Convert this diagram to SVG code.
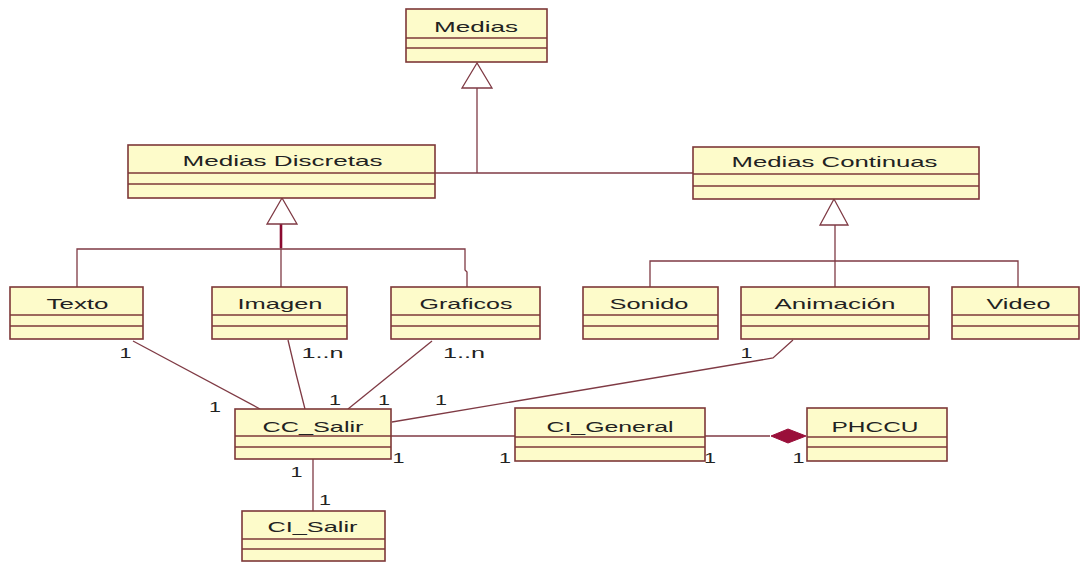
<svg xmlns="http://www.w3.org/2000/svg" width="1081" height="563" viewBox="0 0 1081 563">
  <style>
    .box { fill: #fdfbca; stroke: #7d3838; stroke-width: 1.6; }
    .sep { stroke: #7d3838; stroke-width: 1.3; }
    .name { font-family: "Liberation Sans", Arial, sans-serif; font-size: 15px; fill: #222; text-anchor: middle; }
    .mult { font-family: "Liberation Sans", Arial, sans-serif; font-size: 15px; fill: #222; text-anchor: middle; }
    .wire { fill: none; stroke: #7f3a44; stroke-width: 1.3; }
    .tri { fill: #ffffff; stroke: #7f3a44; stroke-width: 1.3; }
    .dia { fill: #9a0f3a; stroke: #9a0f3a; stroke-width: 1; }
  </style>
  <rect width="1081" height="563" fill="#ffffff"/>

  <!-- connectors -->
  <g id="connectors">
    <!-- Medias generalization -->
    <line class="wire" x1="435" y1="173" x2="693" y2="173"/>
    <line class="wire" x1="477" y1="173" x2="477" y2="88"/>
    <polygon class="tri" points="477,63 462,88 492,88"/>

    <!-- Medias Discretas generalization -->
    <polyline class="wire" points="77,287 77,249 465,249 465,270 467,272 467,287"/>
    <line class="wire" x1="281" y1="287" x2="281" y2="224"/>
    <line x1="281" y1="224" x2="281" y2="248" stroke="#8b0a30" stroke-width="2.6"/>
    <polygon class="tri" points="282,198 267,224 297,224"/>

    <!-- Medias Continuas generalization -->
    <polyline class="wire" points="650,287 650,261 1018,261 1018,287"/>
    <line class="wire" x1="835" y1="287" x2="835" y2="225"/>
    <polygon class="tri" points="834,199 820,225 848,225"/>

    <!-- associations to CC_Salir -->
    <line class="wire" x1="133" y1="341" x2="260" y2="409"/>
    <path class="wire" d="M288,340 Q296,375 305,409" stroke-width="2"/>
    <line class="wire" x1="432" y1="341" x2="348" y2="409"/>
    <polyline class="wire" points="793,340 773,358 392,422"/>
    <line class="wire" x1="391" y1="436" x2="515" y2="436"/>
    <line class="wire" x1="313" y1="459" x2="313" y2="511" stroke-width="1.8"/>

    <!-- composition CI_General / PHCCU -->
    <line class="wire" x1="705" y1="436" x2="770" y2="436"/>
    <polygon class="dia" points="771,436 788,429 806,436 788,443"/>
  </g>

  <!-- multiplicities -->
  <g id="multiplicities">
    <text class="mult" x="125.5" y="358" textLength="12" lengthAdjust="spacingAndGlyphs">1</text>
    <text class="mult" x="215" y="412" textLength="12" lengthAdjust="spacingAndGlyphs">1</text>
    <text class="mult" x="322.5" y="358" textLength="42" lengthAdjust="spacingAndGlyphs">1..n</text>
    <text class="mult" x="335" y="405" textLength="12" lengthAdjust="spacingAndGlyphs">1</text>
    <text class="mult" x="464" y="358" textLength="42" lengthAdjust="spacingAndGlyphs">1..n</text>
    <text class="mult" x="384" y="405" textLength="12" lengthAdjust="spacingAndGlyphs">1</text>
    <text class="mult" x="441" y="405" textLength="12" lengthAdjust="spacingAndGlyphs">1</text>
    <text class="mult" x="746.5" y="358" textLength="12" lengthAdjust="spacingAndGlyphs">1</text>
    <text class="mult" x="398.5" y="463" textLength="12" lengthAdjust="spacingAndGlyphs">1</text>
    <text class="mult" x="505" y="463" textLength="12" lengthAdjust="spacingAndGlyphs">1</text>
    <text class="mult" x="710" y="463" textLength="12" lengthAdjust="spacingAndGlyphs">1</text>
    <text class="mult" x="798.5" y="463" textLength="12" lengthAdjust="spacingAndGlyphs">1</text>
    <text class="mult" x="296.5" y="477" textLength="12" lengthAdjust="spacingAndGlyphs">1</text>
    <text class="mult" x="325" y="505" textLength="12" lengthAdjust="spacingAndGlyphs">1</text>
  </g>

  <!-- classes -->
  <g id="Medias">
    <rect class="box" x="406" y="9" width="141" height="53"/>
    <line class="sep" x1="406" y1="38" x2="547" y2="38"/>
    <line class="sep" x1="406" y1="48" x2="547" y2="48"/>
    <text class="name" x="476" y="32" textLength="84" lengthAdjust="spacingAndGlyphs">Medias</text>
  </g>
  <g id="MediasDiscretas">
    <rect class="box" x="128" y="145" width="307" height="53"/>
    <line class="sep" x1="128" y1="173" x2="435" y2="173"/>
    <line class="sep" x1="128" y1="184" x2="435" y2="184"/>
    <text class="name" x="282.5" y="166" textLength="200" lengthAdjust="spacingAndGlyphs">Medias Discretas</text>
  </g>
  <g id="MediasContinuas">
    <rect class="box" x="693" y="147" width="286" height="52"/>
    <line class="sep" x1="693" y1="174" x2="979" y2="174"/>
    <line class="sep" x1="693" y1="186" x2="979" y2="186"/>
    <text class="name" x="834.5" y="167" textLength="206" lengthAdjust="spacingAndGlyphs">Medias Continuas</text>
  </g>
  <g id="Texto">
    <rect class="box" x="10" y="287" width="133" height="52"/>
    <line class="sep" x1="10" y1="315" x2="143" y2="315"/>
    <line class="sep" x1="10" y1="326" x2="143" y2="326"/>
    <text class="name" x="77.5" y="309" textLength="62" lengthAdjust="spacingAndGlyphs">Texto</text>
  </g>
  <g id="Imagen">
    <rect class="box" x="212" y="287" width="135" height="52"/>
    <line class="sep" x1="212" y1="315" x2="347" y2="315"/>
    <line class="sep" x1="212" y1="326" x2="347" y2="326"/>
    <text class="name" x="280" y="309" textLength="85" lengthAdjust="spacingAndGlyphs">Imagen</text>
  </g>
  <g id="Graficos">
    <rect class="box" x="391" y="287" width="149" height="52"/>
    <line class="sep" x1="391" y1="315" x2="540" y2="315"/>
    <line class="sep" x1="391" y1="326" x2="540" y2="326"/>
    <text class="name" x="466" y="309" textLength="93" lengthAdjust="spacingAndGlyphs">Graficos</text>
  </g>
  <g id="Sonido">
    <rect class="box" x="583" y="287" width="135" height="52"/>
    <line class="sep" x1="583" y1="315" x2="718" y2="315"/>
    <line class="sep" x1="583" y1="326" x2="718" y2="326"/>
    <text class="name" x="649" y="309" textLength="79" lengthAdjust="spacingAndGlyphs">Sonido</text>
  </g>
  <g id="Animacion">
    <rect class="box" x="741" y="287" width="188" height="52"/>
    <line class="sep" x1="741" y1="315" x2="929" y2="315"/>
    <line class="sep" x1="741" y1="326" x2="929" y2="326"/>
    <text class="name" x="835" y="309" textLength="121" lengthAdjust="spacingAndGlyphs">Animación</text>
  </g>
  <g id="Video">
    <rect class="box" x="952" y="287" width="127" height="52"/>
    <line class="sep" x1="952" y1="315" x2="1079" y2="315"/>
    <line class="sep" x1="952" y1="326" x2="1079" y2="326"/>
    <text class="name" x="1018.5" y="309" textLength="64" lengthAdjust="spacingAndGlyphs">Video</text>
  </g>
  <g id="CC_Salir">
    <rect class="box" x="235" y="409" width="156" height="50"/>
    <line class="sep" x1="235" y1="436" x2="391" y2="436"/>
    <line class="sep" x1="235" y1="447" x2="391" y2="447"/>
    <text class="name" x="313" y="432" textLength="101" lengthAdjust="spacingAndGlyphs">CC_Salir</text>
  </g>
  <g id="CI_General">
    <rect class="box" x="515" y="408" width="190" height="53"/>
    <line class="sep" x1="515" y1="437" x2="705" y2="437"/>
    <line class="sep" x1="515" y1="447" x2="705" y2="447"/>
    <text class="name" x="610" y="432" textLength="127" lengthAdjust="spacingAndGlyphs">CI_General</text>
  </g>
  <g id="PHCCU">
    <rect class="box" x="807" y="408" width="140" height="53"/>
    <line class="sep" x1="807" y1="437" x2="947" y2="437"/>
    <line class="sep" x1="807" y1="447" x2="947" y2="447"/>
    <text class="name" x="875" y="432" textLength="87" lengthAdjust="spacingAndGlyphs">PHCCU</text>
  </g>
  <g id="CI_Salir">
    <rect class="box" x="242" y="511" width="143" height="50"/>
    <line class="sep" x1="242" y1="539" x2="385" y2="539"/>
    <line class="sep" x1="242" y1="549" x2="385" y2="549"/>
    <text class="name" x="312.5" y="532" textLength="90" lengthAdjust="spacingAndGlyphs">CI_Salir</text>
  </g>
</svg>
